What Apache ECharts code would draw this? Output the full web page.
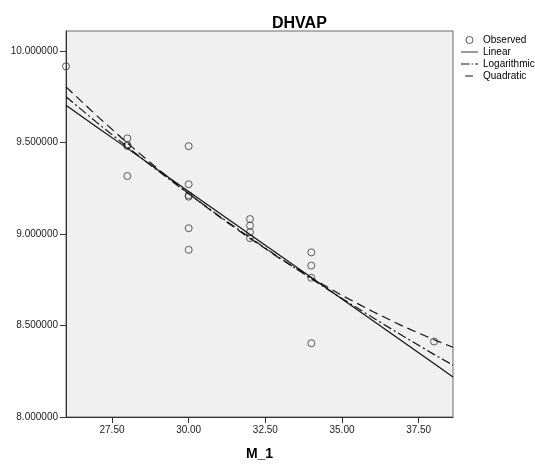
<!DOCTYPE html>
<html>
<head>
<meta charset="utf-8">
<script src="https://cdn.jsdelivr.net/npm/echarts@6/dist/echarts.min.js"></script>
<style>
html,body{margin:0;padding:0;background:#fff;}
#c{width:535px;height:466px;}
</style>
</head>
<body>
<div id="c"></div>
<script>
// Observed points (M_1, DHVAP)
const obsX = [26, 28, 28, 28, 28, 30, 30, 30, 30, 30, 30, 32, 32, 32, 32, 34, 34, 34, 34, 38];
const obsY = [9.915, 9.522, 9.486, 9.480, 9.316, 9.479, 9.271, 9.211, 9.203, 9.031, 8.913,
              9.081, 9.045, 9.009, 8.977, 8.899, 8.827, 8.760, 8.403, 8.412];
// Fitted curves at these M_1 values
const fitX  = [26, 27, 28, 29, 30, 31, 32, 33, 34, 35, 36, 37, 38, 38.62];
const linY  = [9.702, 9.584, 9.467, 9.349, 9.232, 9.114, 8.997, 8.879, 8.762, 8.644, 8.527, 8.409, 8.292, 8.219];
const logY  = [9.749, 9.609, 9.475, 9.344, 9.219, 9.097, 8.980, 8.865, 8.755, 8.647, 8.543, 8.441, 8.342, 8.283];
const quadY = [9.803, 9.646, 9.496, 9.354, 9.220, 9.093, 8.975, 8.863, 8.760, 8.664, 8.576, 8.495, 8.422, 8.381];
// Axis ticks
const xTicks = [27.5, 30, 32.5, 35, 37.5];
const yTicks = [8, 8.5, 9, 9.5, 10];

const zip = (xs, ys) => xs.map((x, i) => [x, ys[i]]);
const font = 'Liberation Sans, Arial, sans-serif';
const ink = '#111';

const chart = echarts.init(document.getElementById('c'), null, {renderer: 'canvas'});
chart.setOption({
  animation: false,
  backgroundColor: '#ffffff',
  title: {
    text: 'DHVAP', left: 267, top: 11,
    textStyle: {fontFamily: font, fontSize: 16, fontWeight: 'bold', color: '#000'}
  },
  legend: {
    orient: 'vertical', left: 456, top: 29,
    itemWidth: 17, itemHeight: 7, itemGap: 0,
    textStyle: {fontFamily: font, fontSize: 10, color: '#000', lineHeight: 12},
    data: [
      {name: 'Observed', icon: 'circle', itemStyle: {color: 'rgba(0,0,0,0)', borderColor: '#333', borderWidth: 1}},
      {name: 'Linear', icon: 'path://M0,0H20V1H0Z'},
      {name: 'Logarithmic', icon: 'path://M0,0H10V1H0Z M12.5,0H14V1H12.5Z M16.5,0H20V1H16.5Z'},
      {name: 'Quadratic', icon: 'path://M0,0H0.01V1H0Z M5,0H14V1H5Z M19.99,0H20V1H19.99Z'}
    ]
  },
  grid: {
    left: 66, top: 31, width: 387, height: 389,
    show: true, backgroundColor: '#f0f0f0', borderColor: '#6a6a6a', borderWidth: 1
  },
  xAxis: {
    type: 'value', min: 26, max: 38.62,
    name: 'M_1', nameLocation: 'middle', nameGap: 30,
    nameTextStyle: {fontFamily: font, fontSize: 14, fontWeight: 'bold', color: '#000'},
    splitLine: {show: false},
    axisLine: {show: true, lineStyle: {color: '#333', width: 1}},
    axisTick: {show: true, length: 6, customValues: xTicks, lineStyle: {color: '#333'}},
    axisLabel: {customValues: xTicks, margin: 8, fontFamily: font, fontSize: 10, color: '#222',
                formatter: v => Number(v).toFixed(2)}
  },
  yAxis: {
    type: 'value', min: 8, max: 10.108,
    splitLine: {show: false},
    axisLine: {show: true, lineStyle: {color: '#333', width: 1}},
    axisTick: {show: true, length: 6, customValues: yTicks, lineStyle: {color: '#333'}},
    axisLabel: {customValues: yTicks, margin: 8, fontFamily: font, fontSize: 10, color: '#222',
                formatter: v => Number(v).toFixed(6)}
  },
  series: [
    {
      name: 'Observed', type: 'scatter', data: zip(obsX, obsY),
      symbol: 'circle', symbolSize: 7,
      itemStyle: {color: 'rgba(0,0,0,0)', borderColor: '#333', borderWidth: 1}
    },
    {
      name: 'Linear', type: 'line', data: zip(fitX, linY), symbol: 'none', color: ink,
      itemStyle: {color: ink},
      lineStyle: {color: ink, width: 1.2, type: 'solid'}
    },
    {
      name: 'Logarithmic', type: 'line', data: zip(fitX, logY), symbol: 'none', color: ink,
      itemStyle: {color: ink},
      lineStyle: {color: ink, width: 1.2, type: [9, 3, 2, 3]}
    },
    {
      name: 'Quadratic', type: 'line', data: zip(fitX, quadY), symbol: 'none', color: ink,
      itemStyle: {color: ink},
      lineStyle: {color: ink, width: 1.2, type: [9, 5]}
    }
  ]
});
</script>
</body>
</html>
